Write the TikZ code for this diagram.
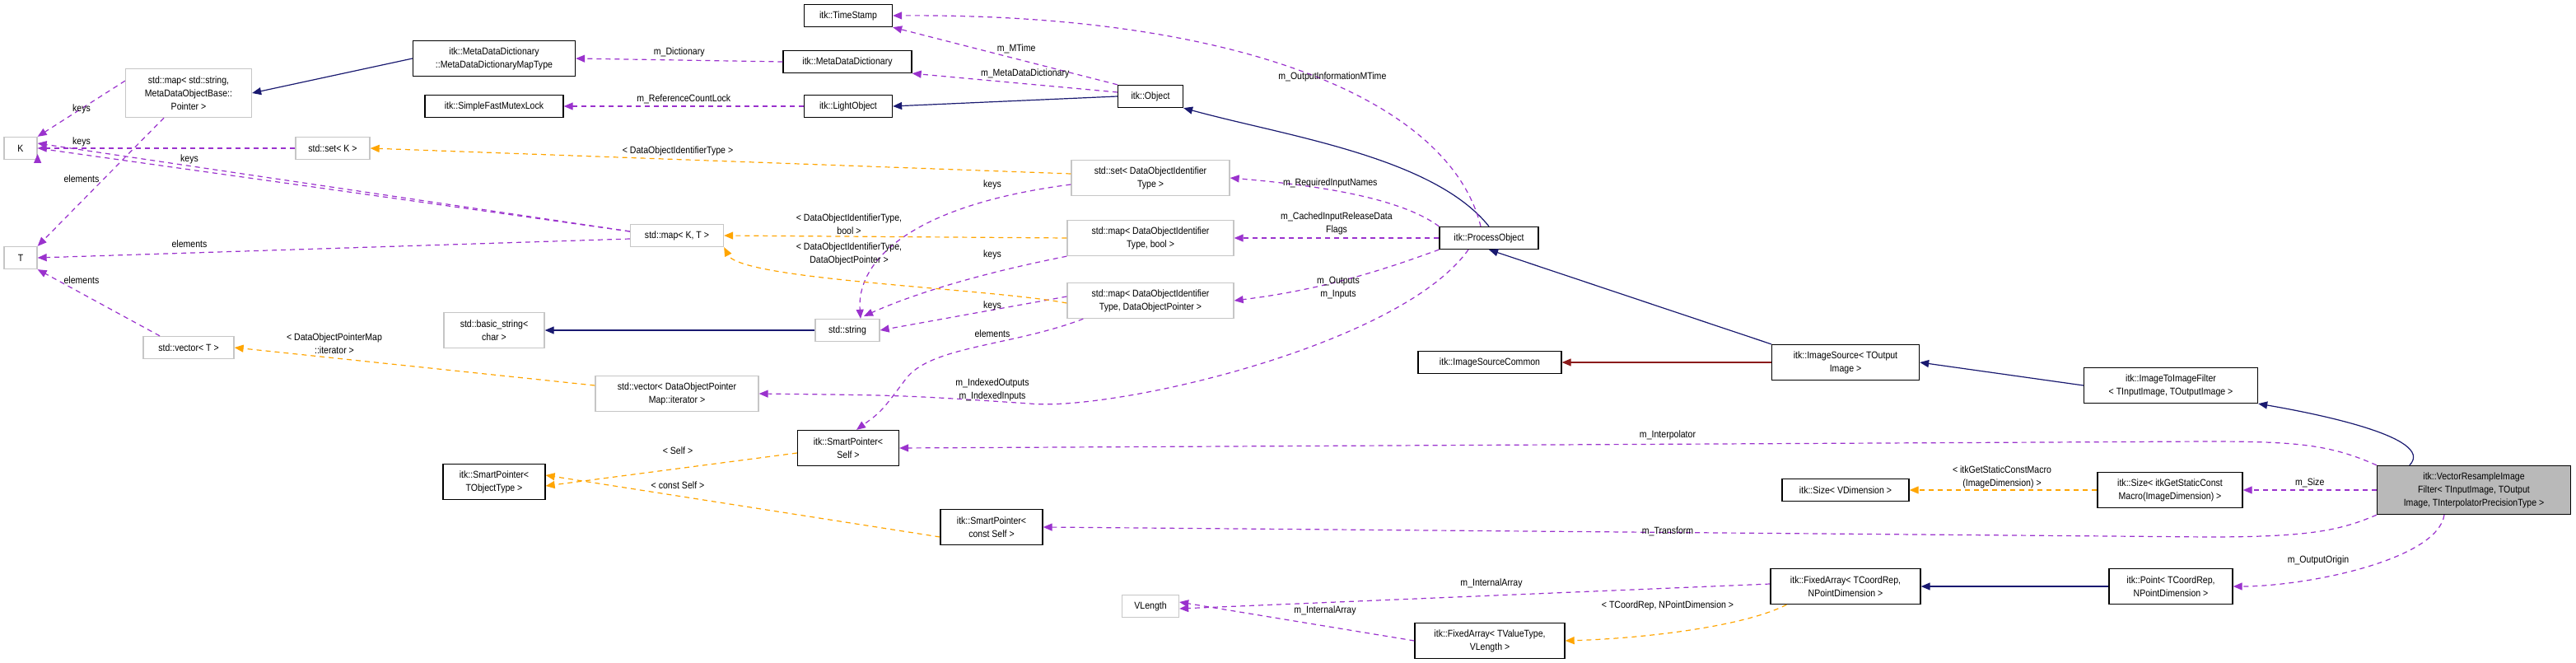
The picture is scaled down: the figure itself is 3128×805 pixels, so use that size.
\documentclass[tikz,border=0pt]{standalone}
\usepackage{fontspec}
\setmainfont{Liberation Sans}[FakeStretch=0.88]
\usetikzlibrary{arrows.meta}
\definecolor{inh}{HTML}{191970}
\definecolor{use}{HTML}{9A32CD}
\definecolor{tpl}{HTML}{FFA500}
\definecolor{prv}{HTML}{8B1A1A}
\begin{document}
\begin{tikzpicture}[x=1pt,y=-1pt,
  every node/.style={font=\fontsize{12}{16}\selectfont, align=center, inner sep=0pt},
  bb/.style={draw=black, line width=1.3pt, fill=white},
  gb/.style={draw=gray!45, line width=1.3pt, fill=white},
  mb/.style={draw=black, line width=1.3pt, fill=gray!55},
  ar/.style={-{Triangle[length=11pt,width=9pt]}, line width=1.2pt},
  ih/.style={ar, draw=inh},
  pv/.style={ar, draw=prv},
  us/.style={ar, draw=use, dash pattern=on 6pt off 5pt},
  tp/.style={ar, draw=tpl, dash pattern=on 6pt off 5pt},
  lb/.style={font=\fontsize{12}{16}\selectfont, fill=none}]
\useasboundingbox (0,0) rectangle (3128,805);
\fill[white] (0,0) rectangle (3128,805);
% nodes
\node[gb,minimum width=153,minimum height=59] (mapstr) at (229,113) {std::map< std::string,\\MetaDataObjectBase::\\Pointer >};
\node[bb,minimum width=197,minimum height=43] (mddmt) at (600,71) {itk::MetaDataDictionary\\::MetaDataDictionaryMapType};
\node[bb,minimum width=168,minimum height=27] (sfml) at (600,129) {itk::SimpleFastMutexLock};
\node[gb,minimum width=40,minimum height=27] (K) at (25,180) {K};
\node[gb,minimum width=40,minimum height=27] (T) at (25,313) {T};
\node[gb,minimum width=90,minimum height=27] (setK) at (404,180) {std::set< K >};
\node[gb,minimum width=122,minimum height=43] (bstr) at (600,401) {std::basic\_string<\\char >};
\node[bb,minimum width=107,minimum height=27] (ts) at (1030,19) {itk::TimeStamp};
\node[bb,minimum width=156,minimum height=27] (mdd) at (1029,75) {itk::MetaDataDictionary};
\node[bb,minimum width=107,minimum height=27] (lo) at (1030,129) {itk::LightObject};
\node[bb,minimum width=79,minimum height=27] (obj) at (1397,117) {itk::Object};
\node[gb,minimum width=192,minimum height=43] (setD) at (1397,216) {std::set< DataObjectIdentifier\\Type >};
\node[gb,minimum width=113,minimum height=27] (mapKT) at (822,286) {std::map< K, T >};
\node[gb,minimum width=202,minimum height=43] (mapDb) at (1397,289) {std::map< DataObjectIdentifier\\Type, bool >};
\node[gb,minimum width=202,minimum height=43] (mapDP) at (1397,365) {std::map< DataObjectIdentifier\\Type, DataObjectPointer >};
\node[gb,minimum width=78,minimum height=27] (str) at (1029,401) {std::string};
\node[bb,minimum width=120,minimum height=27] (po) at (1808,289) {itk::ProcessObject};
\node[gb,minimum width=110,minimum height=27] (vecT) at (229,422) {std::vector< T >};
\node[gb,minimum width=198,minimum height=43] (vecD) at (822,478) {std::vector< DataObjectPointer\\Map::iterator >};
\node[bb,minimum width=123,minimum height=43] (sps) at (1030,544) {itk::SmartPointer<\\Self >};
\node[bb,minimum width=124,minimum height=43] (spt) at (600,585) {itk::SmartPointer<\\TObjectType >};
\node[bb,minimum width=124,minimum height=43] (spc) at (1204,640) {itk::SmartPointer<\\const Self >};
\node[bb,minimum width=174,minimum height=27] (isc) at (1809,440) {itk::ImageSourceCommon};
\node[bb,minimum width=179,minimum height=43] (is) at (2241,440) {itk::ImageSource< TOutput\\Image >};
\node[bb,minimum width=211,minimum height=43] (itif) at (2636,468) {itk::ImageToImageFilter\\< TInputImage, TOutputImage >};
\node[mb,minimum width=235,minimum height=59] (vr) at (3004,595) {itk::VectorResampleImage\\Filter< TInputImage, TOutput\\Image, TInterpolatorPrecisionType >};
\node[bb,minimum width=154,minimum height=27] (sz) at (2241,595) {itk::Size< VDimension >};
\node[bb,minimum width=176,minimum height=43] (szg) at (2635,595) {itk::Size< itkGetStaticConst\\Macro(ImageDimension) >};
\node[bb,minimum width=182,minimum height=43] (fac) at (2241,712) {itk::FixedArray< TCoordRep,\\NPointDimension >};
\node[bb,minimum width=150,minimum height=43] (pt) at (2636,712) {itk::Point< TCoordRep,\\NPointDimension >};
\node[gb,minimum width=69,minimum height=27] (vl) at (1397,736) {VLength};
\node[bb,minimum width=182,minimum height=43] (fav) at (1809,778) {itk::FixedArray< TValueType,\\VLength >};
% inheritance
\draw[ih] (mddmt.west) -- (mapstr.east);
\draw[ih] (str.west) -- (bstr.east);
\draw[ih] (obj.west) -- (lo.east);
\draw[ih] (po.north) .. controls (1740,190) and (1560,165) .. (obj.south east);
\draw[ih] (is.north west) -- (po.south);
\draw[ih] (itif.west) -- (is.east);
\draw[ih] (vr.north west) ++(40,0) .. controls (2960,530) and (2800,500) .. (itif.south east);
\draw[ih] (pt.west) -- (fac.east);
\draw[pv] (is.west) -- (isc.east);
% usage
\draw[us] (mdd.west) -- (mddmt.east) node[lb,midway,above=3pt] {m\_Dictionary};
\draw[us] (lo.west) -- (sfml.east) node[lb,midway,above=3pt] {m\_ReferenceCountLock};
\draw[us] (obj.north west) -- (ts.south east) node[lb,pos=0.45,above=6pt] {m\_MTime};
\draw[us] (obj.west) ++(0,-5) -- (mdd.south east) node[lb,pos=0.45,above=6pt] {m\_MetaDataDictionary};
\draw[us] (po.north) ++(-10,0) .. controls (1760,120) and (1500,16) .. (ts.east) node[lb,pos=0.45,above=2pt] {m\_OutputInformationMTime};
\draw[us] (po.north west) .. controls (1700,240) and (1600,225) .. (setD.east) node[lb,pos=0.6,above=2pt] {m\_RequiredInputNames};
\draw[us] (po.west) -- (mapDb.east) node[lb,midway,above=3pt] {m\_CachedInputReleaseData\\Flags};
\draw[us] (po.south west) .. controls (1700,320) and (1620,350) .. (mapDP.east) node[lb,pos=0.6,above=-4pt,yshift=-18pt] {m\_Outputs\\m\_Inputs};
\draw[us] (po.south) ++(-25,0) .. controls (1700,420) and (1350,500) .. (1250,490) .. controls (1100,480) .. (vecD.east);
\node[lb] at (1205,473) {m\_IndexedOutputs\\m\_IndexedInputs};
\draw[us] (mapstr.south west) ++(0,-45) -- (K.north east);
\node[lb] at (99,132) {keys};
\draw[us] (mapstr.south) ++(-30,0) -- (T.north east);
\node[lb] at (99,217) {elements};
\draw[us] (setK.west) -- (K.east);
\node[lb] at (99,172) {keys};
\draw[us] (mapKT.west) ++(0,-5) -- (K.east) ++(0,7);
\draw[us] (mapKT.west) ++(0,-5) -- ([yshift=6pt]K.east);
\node[lb] at (230,193) {keys};
\draw[us] (mapKT.west) ++(0,4) -- (T.east);
\node[lb] at (230,296) {elements};
\draw[us] (vecT.north) ++(-35,0) -- (T.south east);
\node[lb] at (99,340) {elements};
\draw[us] (setD.west) ++(0,8) .. controls (1100,250) and (1040,320) .. ([xshift=16pt]str.north);
\node[lb] at (1205,224) {keys};
\draw[us] (mapDb.south west) .. controls (1150,340) and (1080,370) .. ([xshift=20pt,yshift=3pt]str.north);
\node[lb] at (1205,309) {keys};
\draw[us] (mapDP.west) ++(0,-5) -- (str.east);
\node[lb] at (1205,371) {keys};
\draw[us] (mapDP.south west) ++(20,0) .. controls (1230,420) and (1130,420) .. (1100,460) .. controls (1070,500) .. ([xshift=10pt]sps.north);
\node[lb] at (1205,405) {elements};
\draw[us] (vr.north west) .. controls (2830,540) and (2790,536) .. (2680,536) -- (sps.east);
\node[lb] at (2025,528) {m\_Interpolator};
\draw[us] (vr.south west) .. controls (2840,645) and (2800,652) .. (2680,652) -- (spc.east);
\node[lb] at (2025,645) {m\_Transform};
\draw[us] (vr.west) -- (szg.east) node[lb,midway,above=3pt] {m\_Size};
\draw[us] (vr.south) ++(-36,0) .. controls (2960,680) and (2800,712) .. (pt.east);
\node[lb] at (2815,680) {m\_OutputOrigin};
\draw[us] (fac.west) ++(0,-3) -- ([yshift=-3pt]vl.east);
\node[lb] at (1811,708) {m\_InternalArray};
\draw[us] (fav.west) -- ([yshift=5pt]vl.east);
\node[lb] at (1609,741) {m\_InternalArray};
% templates
\draw[tp] (setD.west) ++(0,-5) -- (setK.east);
\node[lb] at (823,183) {< DataObjectIdentifierType >};
\draw[tp] (mapDb.west) -- (mapKT.east);
\node[lb] at (1031,272) {< DataObjectIdentifierType,\\bool >};
\draw[tp] (mapDP.west) ++(0,3) .. controls (1200,350) and (900,340) .. (mapKT.south east);
\node[lb] at (1031,308) {< DataObjectIdentifierType,\\DataObjectPointer >};
\draw[tp] (vecD.west) ++(0,-10) -- (vecT.east);
\node[lb] at (406,417) {< DataObjectPointerMap\\::iterator >};
\draw[tp] (sps.west) ++(0,6) -- ([yshift=-5pt]spt.east);
\node[lb] at (823,547) {< Self >};
\draw[tp] (spc.west) ++(0,12) -- ([yshift=8pt]spt.east);
\node[lb] at (823,589) {< const Self >};
\draw[tp] (szg.west) -- (sz.east);
\node[lb] at (2431,579) {< itkGetStaticConstMacro\\(ImageDimension) >};
\draw[tp] (fac.south west) ++(20,0) .. controls (2120,760) and (2000,775) .. (fav.east);
\node[lb] at (2025,735) {< TCoordRep, NPointDimension >};
\end{tikzpicture}
\end{document}
